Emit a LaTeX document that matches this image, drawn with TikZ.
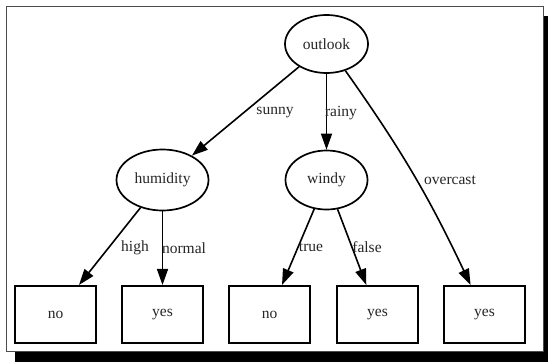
\documentclass[tikz,border=0pt]{standalone}
\usepackage{fontspec}
\setmainfont{Liberation Serif}
\usetikzlibrary{shapes.geometric,arrows.meta}

\begin{document}
\begin{tikzpicture}[x=1pt, y=-1pt,
    font=\fontsize{15.5}{18}\selectfont, text=black!85,
    attr/.style={draw=black, ellipse, line width=1.7pt, inner sep=0pt},
    leaf/.style={draw=black, rectangle, line width=2.1pt, minimum width=81pt, minimum height=57pt},
    edge/.style={-{Triangle[length=16pt,width=11pt]}, line width=1.6pt},
    lbl/.style={inner sep=0pt}]
    \useasboundingbox (0,0) rectangle (548,362);

    % Frame with shadow
    \fill[black] (15,16) rectangle (548,362);
    \draw[fill=white, draw=black!70, line width=1.6pt] (6.5,6.5) rectangle (543.5,351.5);

    % Attributes
    \node[attr, minimum width=83pt, minimum height=58pt] (outlook) at (326.5,44) {outlook};
    \node[attr, minimum width=92pt, minimum height=61pt] (humidity) at (162.5,180) {humidity};
    \node[attr, minimum width=82pt, minimum height=59pt] (windy) at (326.5,180) {windy};

    % Leaves
    \foreach \n/\x/\t in {no1/55.5/no, yes1/162.5/yes, no2/269.5/no, yes2/377.5/yes, yes3/484.5/yes} {
        \node[leaf] (\n) at (\x,314.5) {\t};
    }

    % Branches
    \draw[edge] (outlook) -- (humidity);
    \draw[edge] (outlook) -- (windy);
    \draw[edge] (outlook) to[bend left=5] (yes3);
    \draw[edge] (humidity) -- (no1);
    \draw[edge] (humidity) -- (yes1);
    \draw[edge] (windy) -- (no2);
    \draw[edge] (windy) -- (yes2);

    % Branch labels
    \node[lbl] (sunny) at (275,113) {sunny};
    \node[lbl] (rainy) at (341,113) {rainy};
    \node[lbl] (overcast) at (450,180) {overcast};
    \node[lbl] (high) at (135,248) {high};
    \node[lbl] (normal) at (184,248) {normal};
    \node[lbl] (true) at (311,247) {true};
    \node[lbl] (false) at (367,247) {false};
\end{tikzpicture}
\end{document}
